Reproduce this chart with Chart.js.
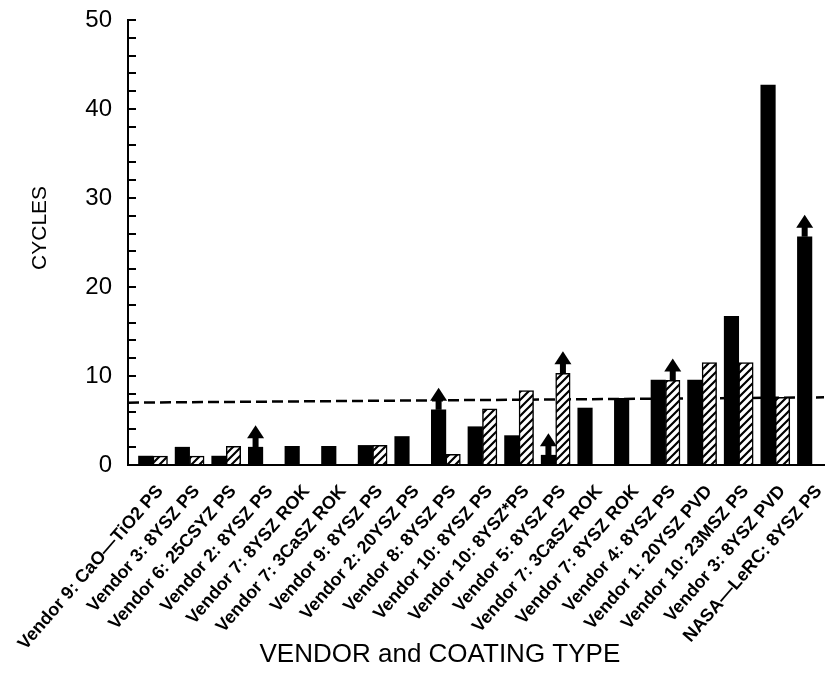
<!DOCTYPE html>
<html>
<head>
<meta charset="utf-8">
<script src="https://cdn.jsdelivr.net/npm/chart.js@4/dist/chart.umd.min.js"></script>
<style>
html,body{margin:0;padding:0;background:#fff;}
#c{display:block;}
</style>
</head>
<body>
<canvas id="c" width="826" height="681"></canvas>
<script>
// ---- data ----
const categories = [
  'Vendor 9: CaO\u2014TiO2 PS',
  'Vendor 3: 8YSZ PS',
  'Vendor 6: 25CSYZ PS',
  'Vendor 2: 8YSZ PS',
  'Vendor 7: 8YSZ ROK',
  'Vendor 7: 3CaSZ ROK',
  'Vendor 9: 8YSZ PS',
  'Vendor 2: 20YSZ PS',
  'Vendor 8: 8YSZ PS',
  'Vendor 10: 8YSZ PS',
  'Vendor 10: 8YSZ*PS',
  'Vendor 5: 8YSZ PS',
  'Vendor 7: 3CaSZ ROK',
  'Vendor 7: 8YSZ ROK',
  'Vendor 4: 8YSZ PS',
  'Vendor 1: 20YSZ PVD',
  'Vendor 10: 23MSZ PS',
  'Vendor 3: 8YSZ PVD',
  'NASA\u2014LeRC: 8YSZ PS'
];
const solidCycles   = [1.0, 2.0, 1.0, 2.0, 2.1, 2.1, 2.2, 3.2, 6.2, 4.3, 3.3, 1.1, 6.4, 7.5, 9.55, 9.55, 16.7, 42.7, 25.65];
const hatchedCycles = [1.0, 1.0, 2.1, null, null, null, 2.2, null, 1.2, 6.3, 8.35, 10.3, null, null, 9.5, 11.5, 11.5, 7.6, null];
const solidRunout   = [false,false,false,true,false,false,false,false,true,false,false,true,false,false,false,false,false,false,true];
const hatchedRunout = [false,false,false,false,false,false,false,false,false,false,false,true,false,false,true,false,false,false,false];
const thresholdCycles = [7.0, 7.6];   // dashed reference line, left end and right end
const yTickLabels = [0, 10, 20, 30, 40, 50];

// ---- chart ----
const X_MIN = 0.317, X_MAX = 19.33;
const canvas = document.getElementById('c');
const ctx = canvas.getContext('2d');

function makeHatch() {
  const c = document.createElement('canvas');
  c.width = 8; c.height = 8;
  const g = c.getContext('2d');
  g.fillStyle = '#fff'; g.fillRect(0, 0, 8, 8);
  g.strokeStyle = '#000'; g.lineWidth = 2.2; g.lineCap = 'square';
  g.beginPath();
  g.moveTo(-2, 10); g.lineTo(10, -2);
  g.moveTo(-2, 2); g.lineTo(2, -2);
  g.moveTo(6, 10); g.lineTo(10, 6);
  g.stroke();
  return ctx.createPattern(c, 'repeat');
}

const toXY = arr => arr.map((v, i) => ({x: i + 1, y: v}));

const arrowPlugin = {
  id: 'runoutArrows',
  afterDatasetsDraw(chart) {
    const c = chart.ctx;
    [[0, solidRunout], [1, hatchedRunout]].forEach(([d, flags]) => {
      const meta = chart.getDatasetMeta(d);
      flags.forEach((f, i) => {
        if (!f) return;
        const el = meta.data[i];
        if (!el) return;
        const x = el.x, y = el.y;
        c.save();
        c.fillStyle = '#000';
        c.fillRect(x - 3, y - 10, 6, 10);
        c.beginPath();
        c.moveTo(x - 8.5, y - 9);
        c.lineTo(x + 8.5, y - 9);
        c.lineTo(x, y - 22);
        c.closePath();
        c.fill();
        c.restore();
      });
    });
  }
};

new Chart(ctx, {
  type: 'bar',
  data: {
    datasets: [
      {
        label: 'solid',
        data: toXY(solidCycles),
        backgroundColor: '#000',
        borderColor: '#000',
        borderWidth: 0,
        barThickness: 14.5,
        order: 1
      },
      {
        label: 'hatched',
        data: toXY(hatchedCycles),
        backgroundColor: makeHatch(),
        borderColor: '#000',
        borderWidth: 1.5,
        barThickness: 14.5,
        order: 2
      },
      {
        type: 'line',
        label: 'threshold',
        data: [{x: X_MIN, y: thresholdCycles[0]}, {x: X_MAX, y: thresholdCycles[1]}],
        borderColor: '#000',
        borderWidth: 2.5,
        borderDash: [11, 5],
        pointRadius: 0,
        fill: false,
        order: 10
      }
    ]
  },
  options: {
    responsive: false,
    animation: false,
    devicePixelRatio: 1,
    layout: {padding: {top: 20, right: 2, left: 0, bottom: 0}},
    plugins: {legend: {display: false}, tooltip: {enabled: false}},
    scales: {
      x: {
        type: 'linear',
        offset: false,
        min: X_MIN,
        max: X_MAX,
        grid: {display: false, drawTicks: false, offset: false},
        border: {display: true, color: '#000', width: 2},
        afterBuildTicks(scale) {
          scale.ticks = categories.map((c, i) => ({value: i + 1}));
        },
        ticks: {
          autoSkip: false,
          minRotation: 49,
          maxRotation: 49,
          padding: 16,
          labelOffset: 7,
          color: '#000',
          font: {family: 'Liberation Sans', size: 18, weight: 'bold'},
          callback: v => categories[Math.round(v) - 1] || ''
        },
        title: {
          display: true,
          text: 'VENDOR and COATING TYPE          ',
          color: '#000',
          font: {family: 'Liberation Sans', size: 26},
          padding: {top: 0, bottom: 11}
        },
        afterFit(scale) {
          scale.height = 216;
          scale.paddingLeft = 0;
          scale.paddingRight = 0;
        }
      },
      y: {
        min: 0,
        max: 50,
        grid: {display: true, drawOnChartArea: false, drawTicks: true, tickLength: -8, color: '#000', lineWidth: 2},
        border: {display: true, color: '#000', width: 2},
        ticks: {
          stepSize: 2,
          autoSkip: false,
          padding: 24,
          color: '#000',
          font: {family: 'Liberation Sans', size: 24},
          callback: v => yTickLabels.includes(v) ? String(v) : ''
        },
        title: {
          display: true,
          text: '     CYCLES',
          color: '#000',
          font: {family: 'Liberation Sans', size: 21},
          padding: {top: 28, bottom: 0}
        },
        afterFit(scale) {
          scale.width = 128;
          scale.paddingTop = 0;
          scale.paddingBottom = 0;
        }
      }
    }
  },
  plugins: [arrowPlugin]
});
</script>
</body>
</html>
